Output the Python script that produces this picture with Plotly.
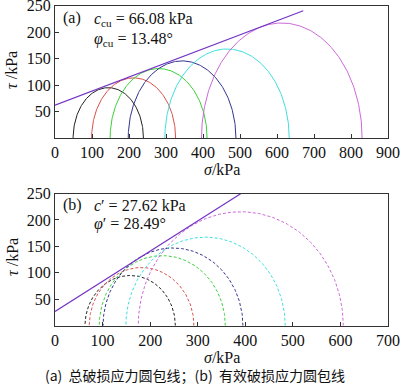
import numpy as np
import plotly.graph_objects as go

# ---------------- data ----------------
colors = ["#222222", "#d8504a", "#3ccf3c", "#34338f", "#40dede", "#cc6ad8"]

# (a) total stress Mohr circles: minor / major principal stress (kPa)
a_sigma3 = [49, 99, 149, 198, 297, 396]
a_sigma1 = [239, 326, 411, 489, 633, 830]
# (a) envelope end points
a_env_sigma = [0, 671]
a_env_tau = [62, 240]

# (b) effective stress Mohr circles
b_sigma3 = [63, 72, 93, 101, 149, 175]
b_sigma1 = [253, 292, 358, 395, 484, 606]
# (b) envelope end points
b_env_sigma = [0, 391]
b_env_tau = [27, 250]

a_xticks = [0, 100, 200, 300, 400, 500, 600, 700, 800, 900]
b_xticks = [0, 100, 200, 300, 400, 500, 600, 700]
yticks = [50, 100, 150, 200, 250]

env_color = "#7434c4"
W, H = 400, 391


def px(x):
    return x / W


def py(y):
    return 1 - y / H


fig = go.Figure()

theta = np.linspace(0, np.pi, 181)


def add_circles(s3, s1, xa, ya, dash):
    for lo, hi, c in zip(s3, s1, colors):
        cen = (lo + hi) / 2
        r = (hi - lo) / 2
        fig.add_trace(go.Scatter(
            x=cen + r * np.cos(theta), y=r * np.sin(theta),
            mode="lines", line=dict(color=c, width=1, dash=dash),
            xaxis=xa, yaxis=ya, hoverinfo="skip", showlegend=False))


add_circles(a_sigma3, a_sigma1, "x", "y", "solid")
fig.add_trace(go.Scatter(x=a_env_sigma, y=a_env_tau, mode="lines",
                         line=dict(color=env_color, width=1.2),
                         xaxis="x", yaxis="y", showlegend=False))
add_circles(b_sigma3, b_sigma1, "x2", "y2", "3px,2px")
fig.add_trace(go.Scatter(x=b_env_sigma, y=b_env_tau, mode="lines",
                         line=dict(color=env_color, width=1.2),
                         xaxis="x2", yaxis="y2", showlegend=False))

serif = "Liberation Serif, Times New Roman, serif"
tickfont = dict(family=serif, size=16, color="#111")
common_ax = dict(showline=True, mirror=True, linecolor="#333", linewidth=1,
                 ticks="inside", ticklen=4, tickcolor="#333", showgrid=False,
                 zeroline=False, tickfont=tickfont, automargin=False,
                 ticklabeloverflow="allow")

xdom = [px(55), px(388)]
fig.update_layout(
    width=W, height=H,
    margin=dict(l=0, r=0, t=0, b=0),
    paper_bgcolor="white", plot_bgcolor="white",
    xaxis=dict(domain=xdom, range=[0, 900], tickvals=a_xticks, anchor="y", **common_ax),
    yaxis=dict(domain=[py(138), py(5.5)], range=[0, 250], tickvals=yticks, anchor="x", **common_ax),
    xaxis2=dict(domain=xdom, range=[0, 700], tickvals=b_xticks, anchor="y2", **common_ax),
    yaxis2=dict(domain=[py(325.7), py(193.5)], range=[0, 250], tickvals=yticks, anchor="x2", **common_ax),
)

ann = []


def text(x, y, t, size=16, xanchor="left", angle=0, family=serif):
    ann.append(dict(x=px(x), y=py(y), xref="paper", yref="paper", text=t,
                    showarrow=False, xanchor=xanchor, yanchor="middle",
                    textangle=angle, font=dict(family=family, size=size, color="#111")))


# panel (a)
text(61, 17.5, "(a)")
text(92, 20, "<i>c</i><sub>cu</sub> = 66.08 kPa")
text(92, 39, "<i>φ</i><sub>cu</sub> = 13.48°")
text(12, 70, "<i>τ</i> /kPa", xanchor="center", angle=-90)
text(222, 170, "<i>σ</i>/kPa", xanchor="center")

# panel (b)
text(61, 205, "(b)")
text(92, 206, "<i>c</i>′ = 27.62 kPa")
text(92, 224, "<i>φ</i>′ = 28.49°")
text(12, 257, "<i>τ</i> /kPa", xanchor="center", angle=-90)
text(222, 357, "<i>σ</i>/kPa", xanchor="center")

# caption
text(43, 375, "(a)  总破损应力圆包线；(b)  有效破损应力圆包线", size=14,
     family="Noto Sans CJK SC")

fig.update_layout(annotations=ann)

fig.write_html("out.html", config={"displayModeBar": False},
               post_script="document.body.style.margin='0';")
